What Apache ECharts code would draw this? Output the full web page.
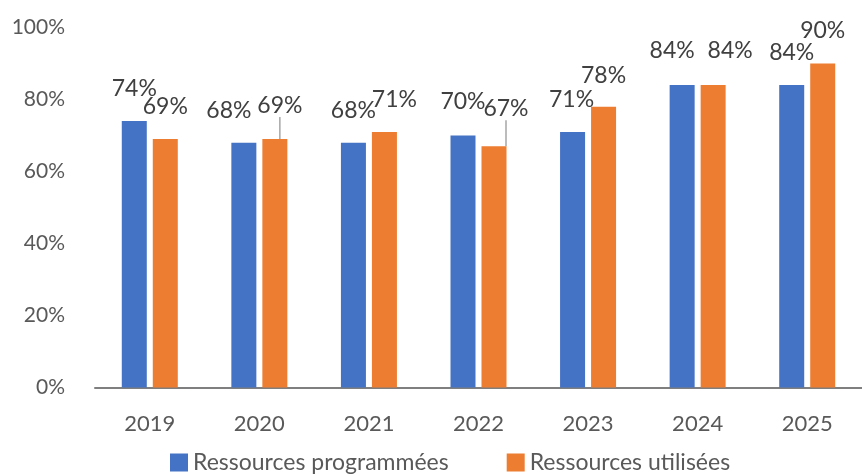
<!DOCTYPE html>
<html>
<head>
<meta charset="utf-8">
<script src="https://cdn.jsdelivr.net/npm/echarts@6/dist/echarts.min.js"></script>
<style>
  html, body { margin: 0; padding: 0; background: #fff; }
  #chart { width: 862px; height: 475px; }
</style>
</head>
<body>
<div id="chart"></div>
<script>
const years = ['2019', '2020', '2021', '2022', '2023', '2024', '2025']
const programmees = [74, 68, 68, 70, 71, 84, 84]
const utilisees = [69, 69, 71, 67, 78, 84, 90]
const yTicks = [0, 20, 40, 60, 80, 100]

// label nudges (Excel moved some labels to avoid overlaps)
const nudgeBlue = [[0, -16], [-15, -16], [0, -16], [0, -17], [-1, -16], [-10, -18], [0, -16]]
const nudgeOrange = [[0, -16], [5, -17], [10, -16], [12, -21], [0, -15], [17, -18], [0, -16]]
const leaderOrange = [false, true, false, true, false, false, false]

const textColor = '#595959'
const font = 'Lato, "Noto Sans", sans-serif'

const labelStyle = {
  show: true,
  position: 'top',
  formatter: '{c}%',
  color: '#404040',
  fontFamily: font,
  fontSize: 23,
}

const chart = echarts.init(document.getElementById('chart'))
chart.setOption({
  animation: false,
  grid: { left: 95, right: -3, top: 27.5, bottom: 87.5 },
  legend: {
    top: 446,
    left: 165,
    itemWidth: 18,
    itemHeight: 18,
    itemGap: 58,
    icon: 'rect',
    textStyle: { color: textColor, fontFamily: font, fontSize: 23 },
    data: ['Ressources programmées', 'Ressources utilisées'],
  },
  xAxis: {
    type: 'category',
    data: years,
    axisTick: { show: false },
    axisLine: { lineStyle: { color: '#7f7f7f', width: 2 } },
    axisLabel: { color: textColor, fontFamily: font, fontSize: 22, margin: 25 },
  },
  yAxis: {
    type: 'value',
    min: yTicks[0],
    max: yTicks[yTicks.length - 1],
    interval: yTicks[1] - yTicks[0],
    splitLine: { show: false },
    axisLabel: { formatter: '{value}%', color: textColor, fontFamily: font, fontSize: 21, margin: 30 },
  },
  series: [
    {
      name: 'Ressources programmées',
      type: 'bar',
      barWidth: 25,
      barGap: '24%',
      itemStyle: { color: '#4472C4' },
      label: labelStyle,
      labelLayout: (p) => ({ dx: nudgeBlue[p.dataIndex][0], dy: nudgeBlue[p.dataIndex][1] }),
      data: programmees,
    },
    {
      name: 'Ressources utilisées',
      type: 'bar',
      barWidth: 25,
      barGap: '24%',
      itemStyle: { color: '#ED7D31' },
      label: labelStyle,
      labelLine: { show: false, lineStyle: { color: '#a6a6a6', width: 1.5 } },
      labelLayout: (p) => ({ dx: nudgeOrange[p.dataIndex][0], dy: nudgeOrange[p.dataIndex][1] }),
      data: utilisees.map((v, i) => (leaderOrange[i] ? { value: v, labelLine: { show: true } } : v)),
    },
  ],
})
</script>
</body>
</html>
